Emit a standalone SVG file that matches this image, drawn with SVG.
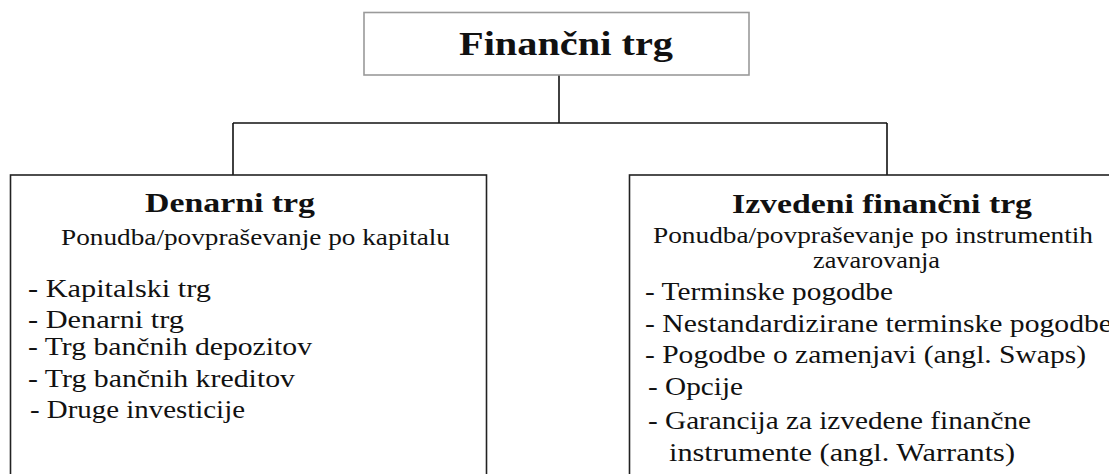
<svg xmlns="http://www.w3.org/2000/svg" width="1109" height="474" viewBox="0 0 1109 474">
  <style>
    .t { font-family: "Liberation Serif", "Times New Roman", serif; fill: #111; }
    .b { font-weight: bold; }
    .main { font-size: 33px; }
    .head { font-size: 28px; }
    .sub { font-size: 23px; }
    .item { font-size: 26px; }
    .conn { stroke: #111; stroke-width: 1.6; fill: none; }
    .box { fill: #fff; stroke: #222; stroke-width: 1.6; }
    .topbox { fill: #fff; stroke: #9a9a9a; stroke-width: 1.6; }
  </style>
  <rect width="1109" height="474" fill="#fff"/>
  <g id="connectors">
    <path class="conn" d="M559 75 V123"/>
    <path class="conn" d="M233 123 H887"/>
    <path class="conn" d="M233 123 V175"/>
    <path class="conn" d="M887 123 V175"/>
  </g>
  <g id="node-financni-trg">
    <rect class="topbox" x="364" y="12.5" width="385" height="62.5"/>
    <text class="t b main" x="459" y="55" textLength="214" lengthAdjust="spacingAndGlyphs">Finančni trg</text>
  </g>
  <g id="node-denarni-trg">
    <rect class="box" x="10.5" y="175" width="476" height="320"/>
    <text class="t b head" x="145" y="212" textLength="170" lengthAdjust="spacingAndGlyphs">Denarni trg</text>
    <text class="t sub" x="61" y="245" textLength="389" lengthAdjust="spacingAndGlyphs">Ponudba/povpraševanje po kapitalu</text>
    <text class="t item" x="28" y="296.5" textLength="183" lengthAdjust="spacingAndGlyphs">- Kapitalski trg</text>
    <text class="t item" x="28" y="327.5" textLength="156" lengthAdjust="spacingAndGlyphs">- Denarni trg</text>
    <text class="t item" x="28" y="354.5" textLength="284" lengthAdjust="spacingAndGlyphs">- Trg bančnih depozitov</text>
    <text class="t item" x="28" y="386.5" textLength="267" lengthAdjust="spacingAndGlyphs">- Trg bančnih kreditov</text>
    <text class="t item" x="30" y="417.5" textLength="215" lengthAdjust="spacingAndGlyphs">- Druge investicije</text>
  </g>
  <g id="node-izvedeni-financni-trg">
    <rect class="box" x="629.5" y="175" width="520" height="320"/>
    <text class="t b head" x="732" y="213" textLength="300" lengthAdjust="spacingAndGlyphs">Izvedeni finančni trg</text>
    <text class="t sub" x="653" y="243" textLength="440" lengthAdjust="spacingAndGlyphs">Ponudba/povpraševanje po instrumentih</text>
    <text class="t sub" x="813" y="268" textLength="127" lengthAdjust="spacingAndGlyphs">zavarovanja</text>
    <text class="t item" x="645" y="300" textLength="248" lengthAdjust="spacingAndGlyphs">- Terminske pogodbe</text>
    <text class="t item" x="645" y="332" textLength="467" lengthAdjust="spacingAndGlyphs">- Nestandardizirane terminske pogodbe</text>
    <text class="t item" x="645" y="363" textLength="441" lengthAdjust="spacingAndGlyphs">- Pogodbe o zamenjavi (angl. Swaps)</text>
    <text class="t item" x="648" y="395" textLength="95" lengthAdjust="spacingAndGlyphs">- Opcije</text>
    <text class="t item" x="648" y="429" textLength="383" lengthAdjust="spacingAndGlyphs">- Garancija za izvedene finančne</text>
    <text class="t item" x="669" y="461" textLength="346" lengthAdjust="spacingAndGlyphs">instrumente (angl. Warrants)</text>
  </g>
</svg>
